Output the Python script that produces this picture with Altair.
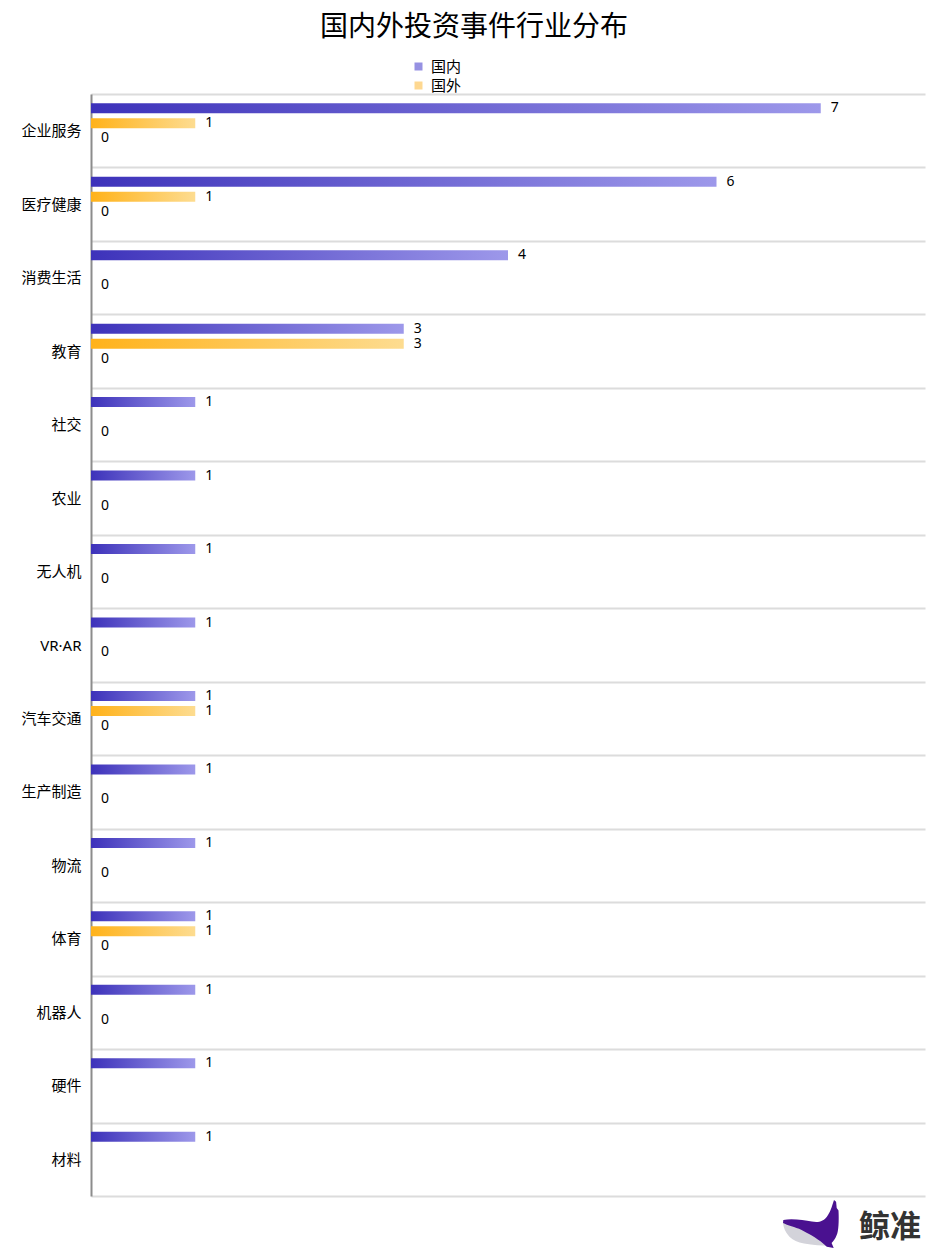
import altair as alt
import pandas as pd

FONT = "Noto Sans CJK SC"
LABEL_FONT = "'Noto Sans', 'Noto Sans CJK SC'"

categories = ['企业服务', '医疗健康', '消费生活', '教育', '社交', '农业', '无人机', 'VR·AR',
              '汽车交通', '生产制造', '物流', '体育', '机器人', '硬件', '材料']
domestic = [7, 6, 4, 3, 1, 1, 1, 1, 1, 1, 1, 1, 1, 1, 1]
foreign = [1, 1, None, 3, None, None, None, None, 1, None, None, 1, None, None, None]
other = [0, 0, 0, 0, 0, 0, 0, 0, 0, 0, 0, 0, 0, None, None]
series_names = ['国内', '国外', '其他', '空']
legend_names = ['国内', '国外']
legend_colors = ['#6a63d6', '#fdc862']

rows = []
for i, c in enumerate(categories):
    rows.append({'category': c, 'series': '国内', 'value': domestic[i]})
    rows.append({'category': c, 'series': '国外', 'value': foreign[i]})
    rows.append({'category': c, 'series': '其他', 'value': other[i]})
df = pd.DataFrame(rows)

grad_dom = alt.Gradient(gradient='linear', x1=0, x2=1, y1=0, y2=0,
                        stops=[alt.GradientStop(color='#3d32ba', offset=0),
                               alt.GradientStop(color='#9d98ea', offset=1)])
grad_for = alt.Gradient(gradient='linear', x1=0, x2=1, y1=0, y2=0,
                        stops=[alt.GradientStop(color='#ffb21a', offset=0),
                               alt.GradientStop(color='#fddc90', offset=1)])

y_enc = alt.Y('category:N', sort=categories,
              scale=alt.Scale(paddingInner=0, paddingOuter=0),
              axis=alt.Axis(title=None, tickBand='extent', ticks=False, grid=True,
                            gridColor='#dcdcdc', gridWidth=2, domainColor='#8c8c8c',
                            domainWidth=2, labelFont=LABEL_FONT, labelFontSize=15,
                            labelColor='#000000', labelPadding=10))
yoff_enc = alt.YOffset('series:N', scale=alt.Scale(domain=series_names,
                                                    paddingInner=1/3, paddingOuter=0.616))
x_enc = alt.X('value:Q', scale=alt.Scale(domain=[0, 8]), axis=None)

base = alt.Chart(df)

bars_dom = base.transform_filter("datum.series == '国内' && isValid(datum.value)").mark_bar(
    color=grad_dom).encode(x=x_enc, y=y_enc, yOffset=yoff_enc)
bars_for = base.transform_filter("datum.series == '国外' && isValid(datum.value)").mark_bar(
    color=grad_for).encode(x=x_enc, y=y_enc, yOffset=yoff_enc)

labels = base.transform_filter("isValid(datum.value)").mark_text(
    align='left', baseline='middle', dx=10, font=LABEL_FONT, fontSize=14, color='#000000'
).encode(x=x_enc, y=y_enc, yOffset=yoff_enc, text='value:Q')

legend_layer = base.transform_filter("false").mark_square().encode(
    x=x_enc, y=y_enc,
    color=alt.Color('series:N', scale=alt.Scale(domain=legend_names, range=legend_colors),
                    legend=alt.Legend(title=None, orient='none', legendX=320, legendY=-35,
                                      direction='vertical', symbolType='square',
                                      symbolSize=64, symbolStrokeWidth=0,
                                      labelFont=FONT, labelFontSize=15, labelColor='#000000',
                                      labelOffset=5, rowPadding=3, padding=0))
)

logo_df = pd.DataFrame({'t': ['鲸准']})
whale_body = ("M -0.89 -0.13 C -0.6 -0.2 -0.2 -0.12 0.06 -0.08 C 0.25 -0.05 0.45 -0.05 0.6 -0.3 "
              "C 0.7 -0.45 0.75 -0.65 0.8 -0.8 L 0.87 -0.74 L 0.89 -0.53 L 0.95 -0.45 "
              "C 0.97 -0.1 0.95 0.25 0.89 0.37 C 0.84 0.5 0.78 0.58 0.72 0.63 L 0.79 0.8 "
              "L 0.56 0.76 C 0.4 0.6 0.2 0.45 -0.28 0.2 C -0.5 0.1 -0.75 0.05 -0.9 -0.03 Z")
whale_belly = ("M -0.9 -0.05 C -0.88 0.3 -0.6 0.6 -0.2 0.65 C 0.1 0.7 0.4 0.72 0.65 0.73 "
               "L 0.5 0.6 L -0.3 0.1 Z")
belly = alt.Chart(logo_df).mark_point(shape=whale_belly, filled=True, color='#d3d3da',
                                      size=3600, opacity=1, strokeWidth=0).encode(
    x=alt.value(719), y=alt.value(1130))
body = alt.Chart(logo_df).mark_point(shape=whale_body, filled=True, color='#4a1190',
                                     size=3600, opacity=1, strokeWidth=0).encode(
    x=alt.value(719), y=alt.value(1130))
logo_text = alt.Chart(logo_df).mark_text(font=FONT, fontSize=31, fontWeight='bold',
                                         color='#333333', align='center', baseline='middle').encode(
    text='t:N', x=alt.value(799), y=alt.value(1134))

chart = alt.layer(bars_dom, bars_for, labels, legend_layer, belly, body, logo_text).properties(
    width=834, height=1102,
    title=alt.TitleParams(text='国内外投资事件行业分布', font=FONT, fontSize=28,
                          fontWeight='normal', color='#000000', anchor='middle',
                          dx=-34, offset=17),
    padding={'left': 83, 'top': 86, 'right': 13, 'bottom': 52},
    autosize='none'
).configure_view(stroke=None)

chart.save("out.html", embed_options={"renderer": "svg", "actions": False})
